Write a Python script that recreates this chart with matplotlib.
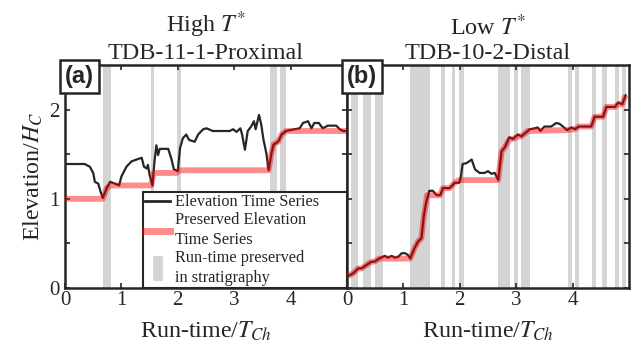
import numpy as np
import matplotlib
matplotlib.use('Agg')
import matplotlib.pyplot as plt
from matplotlib.lines import Line2D

plt.rcParams['font.family'] = ['Liberation Serif', 'DejaVu Serif']
plt.rcParams['mathtext.fontset'] = 'stix'

# panel (a) - high T*
xa = [0.0, 0.35, 0.44, 0.5, 0.53, 0.59, 0.63, 0.67, 0.74, 0.8, 0.885, 0.96, 1.0, 1.09, 1.18, 1.27,
      1.36, 1.40, 1.45, 1.47, 1.5, 1.55, 1.59, 1.62, 1.65, 1.68, 1.83, 1.89, 1.93, 2.0, 2.04, 2.09,
      2.15, 2.2, 2.3, 2.36, 2.45, 2.51, 2.62, 2.77, 2.92, 2.98, 3.04, 3.11, 3.14, 3.19, 3.24, 3.30,
      3.35, 3.38, 3.44, 3.48, 3.52, 3.57, 3.61, 3.66, 3.70, 3.78, 3.84, 3.92, 4.07, 4.16, 4.22, 4.31,
      4.37, 4.42, 4.5, 4.57, 4.66, 4.81, 4.87, 4.93, 5.0]
ya = [1.39, 1.39, 1.36, 1.29, 1.19, 1.17, 1.08, 1.01, 1.12, 1.19, 1.17, 1.15, 1.25, 1.36, 1.42, 1.44,
      1.46, 1.36, 1.34, 1.38, 1.27, 1.15, 1.44, 1.6, 1.49, 1.56, 1.56, 1.44, 1.33, 1.31, 1.57, 1.68,
      1.72, 1.66, 1.64, 1.72, 1.78, 1.79, 1.76, 1.76, 1.76, 1.78, 1.75, 1.79, 1.72, 1.55, 1.76, 1.81,
      1.87, 1.78, 1.94, 1.83, 1.66, 1.51, 1.32, 1.51, 1.61, 1.64, 1.72, 1.76, 1.78, 1.79, 1.85, 1.87,
      1.79, 1.85, 1.85, 1.79, 1.82, 1.82, 1.78, 1.76, 1.76]
pxa = [0, 0.67, 0.74, 0.80, 1.53, 1.57, 1.98, 2.03, 3.61, 3.66, 3.70, 3.78, 3.84, 3.92, 5.0]
pya = [1.0, 1.0, 1.12, 1.15, 1.15, 1.29, 1.29, 1.32, 1.32, 1.51, 1.61, 1.64, 1.72, 1.76, 1.76]
band_a_start = [0.68, 1.52, 1.99, 3.63, 3.81]
band_a_end = [0.81, 1.58, 2.05, 3.76, 3.91]

# panel (b) - low T*
xb = [0.02, 0.11, 0.2, 0.26, 0.35, 0.42, 0.5, 0.57, 0.67, 0.73, 0.79, 0.85, 0.91, 0.97, 1.03, 1.08,
      1.12, 1.2, 1.26, 1.32, 1.36, 1.40, 1.46, 1.52, 1.59, 1.65, 1.70, 1.82, 1.91, 1.99, 2.02, 2.05,
      2.12, 2.21, 2.27, 2.35, 2.44, 2.5, 2.56, 2.62, 2.68, 2.74, 2.80, 2.88, 2.94, 3.03, 3.09, 3.15,
      3.24, 3.33, 3.38, 3.43, 3.50, 3.62, 3.71, 3.77, 3.83, 3.90, 3.98, 4.04, 4.11, 4.33, 4.39, 4.54,
      4.60, 4.75, 4.81, 4.88, 4.94]
yb = [0.135, 0.165, 0.22, 0.22, 0.26, 0.29, 0.30, 0.33, 0.36, 0.34, 0.36, 0.34, 0.35, 0.39, 0.39, 0.37,
      0.33, 0.45, 0.52, 0.56, 0.80, 0.95, 1.09, 1.09, 1.04, 1.04, 1.12, 1.12, 1.18, 1.18, 1.25, 1.39,
      1.40, 1.44, 1.33, 1.29, 1.29, 1.31, 1.28, 1.29, 1.21, 1.53, 1.58, 1.69, 1.67, 1.72, 1.70, 1.73,
      1.78, 1.79, 1.80, 1.76, 1.81, 1.81, 1.85, 1.84, 1.81, 1.77, 1.80, 1.78, 1.81, 1.81, 1.92, 1.92,
      2.03, 2.03, 2.08, 2.06, 2.16]
pxb = [0.02, 0.11, 0.2, 0.26, 0.35, 0.42, 0.5, 0.57, 0.62, 1.12, 1.2, 1.26, 1.32, 1.36, 1.40, 1.42,
       1.65, 1.70, 1.82, 1.91, 1.99, 2.68, 2.74, 2.80, 2.88, 2.94, 3.03, 3.09, 3.15, 3.20, 3.90, 4.04,
       4.11, 4.33, 4.39, 4.54, 4.60, 4.75, 4.81, 4.88, 4.94]
pyb = [0.135, 0.165, 0.22, 0.22, 0.26, 0.29, 0.30, 0.33, 0.33, 0.33, 0.45, 0.52, 0.56, 0.80, 0.95, 1.04,
       1.04, 1.12, 1.12, 1.18, 1.21, 1.21, 1.53, 1.58, 1.67, 1.67, 1.70, 1.70, 1.73, 1.76, 1.77, 1.78,
       1.81, 1.81, 1.92, 1.92, 2.03, 2.03, 2.06, 2.06, 2.16]
band_b_start = [0.065, 0.29, 0.5, 1.12, 1.66, 1.86, 1.99, 2.68, 2.96, 3.09, 3.91, 4.05, 4.34, 4.53, 4.76, 4.87]
band_b_end = [0.2, 0.42, 0.63, 1.47, 1.73, 1.92, 2.07, 2.89, 3.03, 3.24, 3.99, 4.12, 4.41, 4.61, 4.83, 4.95]

titles = ['High $T^{*}$\nTDB-11-1-Proximal', 'Low $T^{*}$\nTDB-10-2-Distal']
labels = ['(a)', '(b)']

dark = '#262626'
gray = '#d4d4d4'

fig = plt.figure(figsize=(6.37, 3.52), dpi=100)
w = 282 / 637
ax1 = fig.add_axes([65 / 637, 1 - 288 / 352, w, 223 / 352])
ax2 = fig.add_axes([347 / 637, 1 - 288 / 352, w, 223 / 352])

data = [(ax1, xa, ya, pxa, pya, band_a_start, band_a_end),
        (ax2, xb, yb, pxb, pyb, band_b_start, band_b_end)]

for i, (ax, x, y, px, py, bs, be) in enumerate(data):
    for s, e in zip(bs, be):
        ax.axvspan(s, e, color=gray, lw=0, zorder=0)
    ax.plot(x, y, color=dark, lw=1.6, zorder=2)
    ax.plot(px, py, color='red', lw=4.2, alpha=0.45, zorder=3, solid_capstyle='butt')
    ax.set_xlim(0, 5)
    ax.set_ylim(0, 2.5)
    ax.set_xticks([0, 1, 2, 3, 4])
    ax.set_yticks([0, 0.5, 1, 1.5, 2])
    ax.tick_params(direction='in', top=True, right=True, length=3.5, width=1.2,
                   color=dark, labelsize=15, labelcolor=dark, pad=2)
    ax.tick_params(axis='y', pad=4)
    for sp in ax.spines.values():
        sp.set_linewidth(1.8)
        sp.set_color(dark)
    ax.set_title(titles[i], fontsize=17.4, color=dark, linespacing=1.2, pad=4)
    ax.set_xlabel('Run-time/$T_{Ch}$', fontsize=17.3, color=dark, labelpad=7)
    ax.text(0.0, 1.0, labels[i], transform=ax.transAxes, ha='left', va='top',
            fontsize=17, fontweight='bold', family=['Liberation Sans', 'DejaVu Sans'],
            color=dark, zorder=6,
            bbox=dict(boxstyle='square,pad=0.2', fc='white', ec=dark, lw=1.8))

ax1.set_yticklabels(['0', '', '1', '', '2'])
ax2.set_yticklabels([])
ax1.set_ylabel('Elevation/$H_C$', fontsize=17.3, color=dark, labelpad=3)

handles = [Line2D([], [], color=dark, lw=2),
           Line2D([], [], color='red', alpha=0.45, lw=5),
           Line2D([], [], color=gray, marker='|', markersize=18, markeredgewidth=7, linestyle='none')]
leg = ax1.legend(handles, ['Elevation Time Series', 'Preserved Elevation\nTime Series',
                           'Run-time preserved\nin stratigraphy'],
                 loc='lower left', bbox_to_anchor=(78 / 282, 0.0, 204 / 282, 0.45), mode='expand',
                 borderaxespad=0,
                 fontsize=11.7, fancybox=False, framealpha=1, edgecolor=dark,
                 handlelength=1.5, handletextpad=0.3, labelspacing=0.12,
                 borderpad=0.15)
leg.get_frame().set_linewidth(1.5)
leg.set_zorder(5)
for t in leg.get_texts():
    t.set_color(dark)
    t.set_linespacing(1.3)

fig.savefig('out.png', dpi=100)
